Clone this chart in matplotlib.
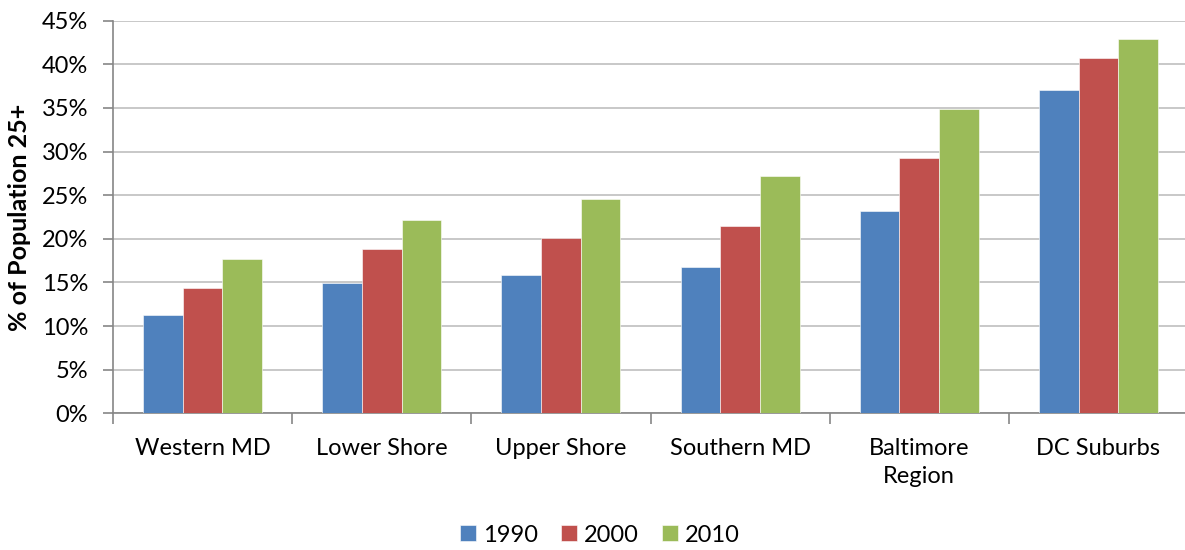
import matplotlib
matplotlib.use("Agg")
import matplotlib.pyplot as plt
import numpy as np
from matplotlib.ticker import FuncFormatter, MultipleLocator

categories = ["Western MD", "Lower Shore", "Upper Shore", "Southern MD", "Baltimore\nRegion", "DC Suburbs"]
series_names = ["1990", "2000", "2010"]
v1990 = [11.3, 14.9, 15.9, 16.8, 23.2, 37.0]
v2000 = [14.4, 18.8, 20.1, 21.5, 29.3, 40.7]
v2010 = [17.7, 22.2, 24.6, 27.2, 34.9, 42.9]
colors = ["#4F81BD", "#C0504D", "#9BBB59"]

plt.rcParams['font.family'] = ['Lato', 'DejaVu Sans']

fig = plt.figure(figsize=(11.85, 5.5), dpi=100)
ax = fig.add_axes([113/1185, 1-413.3/550, (1188-113)/1185, (413.3-20.7)/550])

x = np.arange(len(categories))
w = 0.2216
for i, (vals, name, c) in enumerate(zip([v1990, v2000, v2010], series_names, colors)):
    ax.bar(x + (i-1)*w, vals, width=w, color=c, label=name, zorder=3,
           edgecolor='white', linewidth=0.4)

ax.set_xlim(-0.5, len(categories)-0.5)
ax.set_ylim(0, 45)
ax.yaxis.set_major_locator(MultipleLocator(5))
ax.yaxis.set_major_formatter(FuncFormatter(lambda v, p: f"{int(round(v))}%"))
ax.grid(axis='y', color='#BFBFBF', linewidth=1.2, zorder=0)
ax.set_axisbelow(True)

ax.set_xticks(x)
ax.set_xticklabels(categories, fontsize=17, linespacing=1.4, va='top')
ax.set_xticks(np.arange(-0.5, len(categories)), minor=True)
ax.tick_params(axis='x', which='major', length=0, pad=18)
ax.tick_params(axis='x', which='minor', length=8, color='#868686', width=1.2)
ax.tick_params(axis='y', length=7, color='#868686', width=1.2, labelsize=17, pad=11)

for s in ['top', 'right']:
    ax.spines[s].set_visible(False)
for s in ['left', 'bottom']:
    ax.spines[s].set_color('#868686')
    ax.spines[s].set_linewidth(1.2)

ax.set_ylabel("% of Population 25+", fontsize=18, fontweight='bold', va='center')
ax.yaxis.set_label_coords(-0.087, 0.5)

leg = fig.legend(loc='center', bbox_to_anchor=(600/1185, 1-535/550), ncol=3, frameon=False,
                 fontsize=17, handlelength=0.65, handleheight=0.65, handletextpad=0.3,
                 columnspacing=1.0)

fig.savefig("out.png", dpi=100)
